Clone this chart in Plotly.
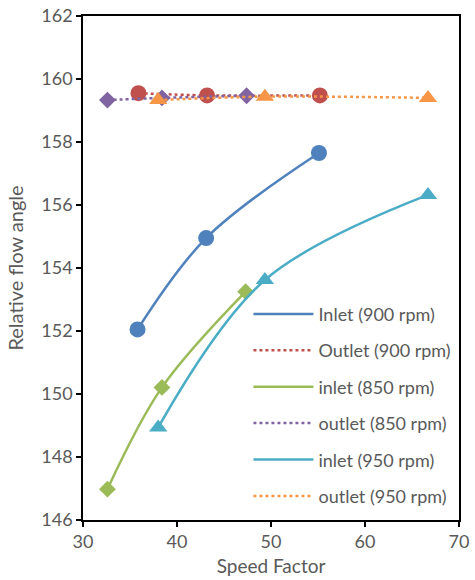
import plotly.graph_objects as go

# ---- data ----
x_in900 = [35.8, 43.1, 55.1]
y_in900 = [152.05, 154.95, 157.65]
x_out900 = [35.9, 43.2, 55.2]
y_out900 = [159.55, 159.48, 159.48]
x_in850 = [32.6, 38.4, 47.3]
y_in850 = [146.98, 150.21, 153.25]
x_out850 = [32.6, 38.4, 47.4]
y_out850 = [159.33, 159.40, 159.47]
x_in950 = [38.0, 49.35, 66.7]
y_in950 = [148.94, 153.62, 156.32]
x_out950 = [38.0, 49.35, 66.7]
y_out950 = [159.33, 159.44, 159.40]

names = ["Inlet (900 rpm)", "Outlet (900 rpm)", "inlet (850 rpm)",
         "outlet (850 rpm)", "inlet (950 rpm)", "outlet (950 rpm)"]
xs = [x_in900, x_out900, x_in850, x_out850, x_in950, x_out950]
ys = [y_in900, y_out900, y_in850, y_out850, y_in950, y_out950]
colors = ["#4F81BD", "#C0504D", "#9BBB59", "#8064A2", "#4BACC6", "#F79646"]
dashes = ["solid", "dot", "solid", "dot", "solid", "dot"]
symbols = ["circle", "circle", "diamond", "diamond", "triangle-up", "triangle-up"]
msizes = [16, 16, 13, 13, 16, 16]

FONT = "Lato"
TXT = "#595959"

fig = go.Figure()
for i in range(6):
    fig.add_trace(go.Scatter(
        x=xs[i], y=ys[i], mode="lines", name=names[i],
        line=dict(color=colors[i], width=2.5, dash=dashes[i], shape="spline"),
        legendgroup=str(i), showlegend=True,
    ))
    fig.add_trace(go.Scatter(
        x=xs[i], y=ys[i], mode="markers", name=names[i],
        marker=dict(color=colors[i], size=msizes[i], symbol=symbols[i]),
        legendgroup=str(i), showlegend=False,
    ))

axis_common = dict(
    showline=True, linecolor="#000000", linewidth=1.5, mirror=True,
    ticks="outside", ticklen=5, tickcolor="#000000", tickwidth=1.5,
    showgrid=False, zeroline=False, automargin=False,
    tickfont=dict(family=FONT, size=18, color=TXT),
)

fig.update_layout(
    width=475, height=580,
    margin=dict(l=83, r=16, t=16, b=60),
    paper_bgcolor="white", plot_bgcolor="white",
    font=dict(family=FONT, color=TXT),
    xaxis=dict(range=[30, 70], dtick=10,
               title=dict(text="Speed Factor", font=dict(family=FONT, size=19, color=TXT), standoff=8),
               **axis_common),
    yaxis=dict(range=[146, 162], dtick=2,
               title=dict(text="Relative flow angle", font=dict(family=FONT, size=20, color=TXT), standoff=12),
               **axis_common),
    legend=dict(x=0.44, y=0.445, xanchor="left", yanchor="top",
                bgcolor="rgba(0,0,0,0)", borderwidth=0,
                font=dict(family=FONT, size=18, color=TXT),
                tracegroupgap=10, itemwidth=60),
)

fig.write_html("out.html", config={"displayModeBar": False},
               post_script="document.body.style.margin='0';")
